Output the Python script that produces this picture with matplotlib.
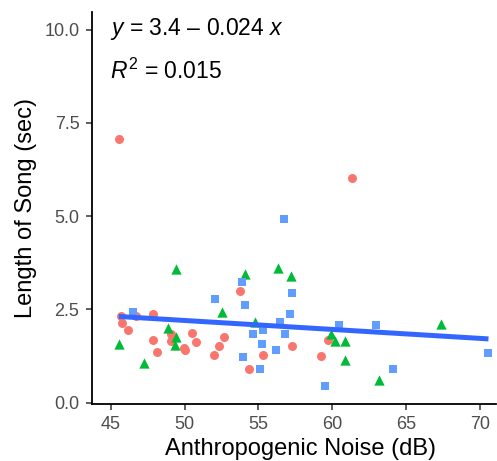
import matplotlib
matplotlib.use("Agg")
import matplotlib.pyplot as plt
import numpy as np

plt.rcParams["font.family"] = ["Liberation Sans", "DejaVu Sans"]
plt.rcParams["mathtext.fontset"] = "custom"
plt.rcParams["mathtext.rm"] = "Liberation Sans"
plt.rcParams["mathtext.it"] = "Liberation Sans:italic"

# --- data ------------------------------------------------------------------
red_x = [45.54, 45.68, 45.77, 46.19, 46.70, 47.86, 47.86, 48.13, 49.10, 49.10,
         49.95, 50.00, 50.47, 50.74, 51.96, 52.36, 52.66, 53.76, 54.35, 55.30,
         57.30, 59.24, 59.73, 61.33]
red_y = [7.07, 2.31, 2.13, 1.95, 2.32, 2.36, 1.67, 1.36, 1.84, 1.65,
         1.46, 1.40, 1.86, 1.61, 1.28, 1.51, 1.76, 3.00, 0.91, 1.27,
         1.52, 1.26, 1.68, 6.02]

green_x = [45.54, 47.23, 48.85, 49.39, 49.44, 49.37, 52.52, 54.10, 54.78, 56.31,
           57.23, 59.90, 60.20, 60.90, 60.90, 63.15, 67.39]
green_y = [1.58, 1.06, 2.00, 3.57, 1.77, 1.55, 2.44, 3.45, 2.15, 3.60,
           3.40, 1.84, 1.66, 1.64, 1.14, 0.61, 2.11]

blue_x = [46.53, 52.05, 53.90, 54.10, 54.64, 55.34, 55.23, 53.94, 55.14, 56.20,
          56.49, 56.71, 56.82, 57.16, 57.30, 59.48, 60.47, 62.97, 64.12, 70.59]
blue_y = [2.44, 2.77, 3.24, 2.61, 1.83, 1.94, 1.56, 1.21, 0.89, 1.42,
          2.17, 4.93, 1.84, 2.36, 2.93, 0.44, 2.09, 2.07, 0.91, 1.32]

intercept, slope, r2 = 3.4, -0.024, 0.015
x_ticks = [45, 50, 55, 60, 65, 70]
y_ticks = [0.0, 2.5, 5.0, 7.5, 10.0]

# --- figure -----------------------------------------------------------------
fig = plt.figure(figsize=(4.97, 4.61), dpi=100)
ax = fig.add_axes([0.185, 0.124, 0.813, 0.85])

ax.scatter(red_x, red_y, marker="o", s=42, color="#F8766D", linewidths=0, zorder=2)
ax.scatter(green_x, green_y, marker="^", s=55, color="#00BA38", linewidths=0, zorder=2)
ax.scatter(blue_x, blue_y, marker="s", s=38, color="#619CFF", linewidths=0, zorder=2)

all_x = np.array(red_x + green_x + blue_x)
lx = np.linspace(all_x.min(), all_x.max(), 50)
ax.plot(lx, intercept + slope * lx, color="#3366FF", lw=3.6,
        solid_capstyle="butt", zorder=3)

ax.text(44.93, 10.02, r"$y$ = 3.4 – 0.024 $x$", fontsize=16.5, va="center", ha="left")
ax.text(44.93, 8.88, r"$R^2$ = 0.015", fontsize=16.5, va="center", ha="left")

ax.set_xlim(43.72, 71.1)
ax.set_ylim(-0.035, 10.47)
ax.set_xticks(x_ticks)
ax.set_yticks(y_ticks)
ax.set_yticklabels([f"{v:.1f}" for v in y_ticks])

for side in ("top", "right"):
    ax.spines[side].set_visible(False)
for side in ("left", "bottom"):
    ax.spines[side].set_linewidth(1.3)
    ax.spines[side].set_color("black")

ax.tick_params(direction="out", length=4, width=1.1, color="#333333",
               labelsize=13, labelcolor="#4D4D4D", pad=5)
ax.set_xlabel("Anthropogenic Noise (dB)", fontsize=17, labelpad=3)
ax.xaxis.label.set_x(0.515)
ax.set_ylabel("Length of Song (sec)", fontsize=17, labelpad=5)

fig.savefig("out.png", dpi=100)
